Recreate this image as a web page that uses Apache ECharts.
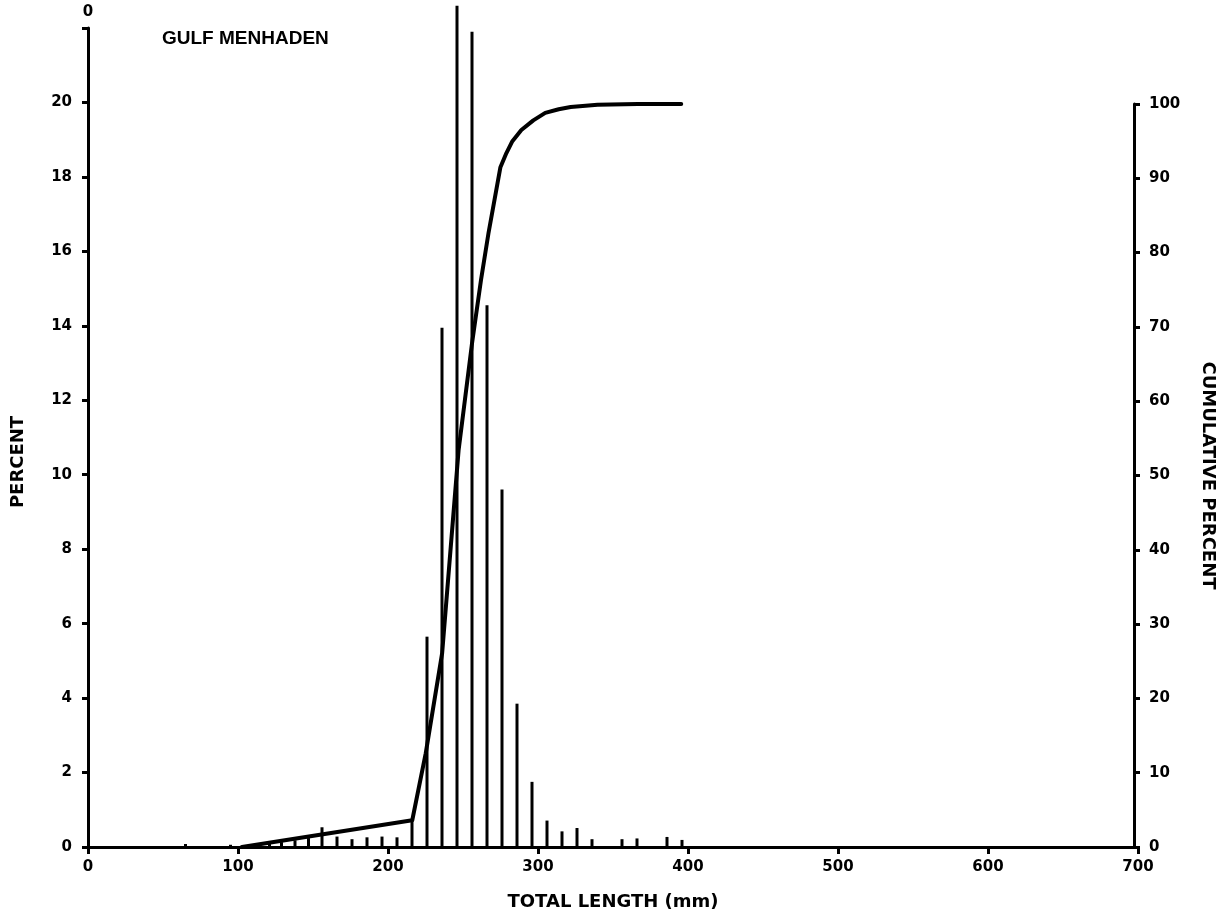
<!DOCTYPE html>
<html>
<head>
<meta charset="utf-8">
<script src="https://cdn.jsdelivr.net/npm/echarts@6/dist/echarts.min.js"></script>
<style>
  html, body { margin: 0; padding: 0; background: #fff; }
  #chart { width: 1225px; height: 917px; }
</style>
</head>
<body>
<div id="chart"></div>
<script>
// length class midpoints (mm) and percent of fish
let lengths = [65, 95, 121, 129, 138, 147, 156, 166, 176, 186, 196, 206, 216, 226, 236, 246, 256, 266, 276, 286, 296, 306, 316, 326, 336, 356, 366, 386, 396];
let percents = [0.08, 0.06, 0.1, 0.13, 0.18, 0.24, 0.53, 0.28, 0.21, 0.26, 0.28, 0.26, 0.72, 5.65, 13.95, 22.6, 21.9, 14.55, 9.6, 3.85, 1.75, 0.71, 0.42, 0.51, 0.21, 0.21, 0.23, 0.27, 0.19];

// cumulative curve
let cumLength = [103, 217, 226, 237, 248, 257, 263, 268, 276, 280, 284, 290, 298, 306, 315, 323, 341, 368, 397];
let cumPercent = [0, 3.6, 12.6, 26.1, 53.4, 67.8, 76.3, 82.6, 91.5, 93.4, 95, 96.5, 97.8, 98.8, 99.3, 99.6, 99.9, 100, 100];

let xTicks = [0, 100, 200, 300, 400, 500, 600, 700];

const font = '"DejaVu Sans", "Liberation Sans", sans-serif';
const ink = '#000';

let chart = echarts.init(document.getElementById('chart'));

let labelStyle = {
    color: ink,
    fontFamily: font,
    fontWeight: 'bold',
    fontSize: 15
};
let nameStyle = {
    color: ink,
    fontFamily: font,
    fontWeight: 'bold',
    fontSize: 18
};

let option = {
    backgroundColor: '#fff',
    animation: false,
    title: {
        text: 'GULF MENHADEN',
        left: 157,
        top: 24,
        textStyle: { color: ink, fontFamily: '"Liberation Sans", sans-serif', fontWeight: 'bold', fontSize: 19 }
    },
    graphic: [{
        type: 'text',
        rotation: Math.PI / 2,
        x: 18,
        y: 462,
        style: {
            text: 'PERCENT',
            fill: ink,
            font: 'bold 18px ' + font,
            textAlign: 'center',
            textVerticalAlign: 'middle'
        }
    }],
    grid: [
        { left: 88, right: 87, top: 28, bottom: 70 },
        { left: 88, right: 87, top: 104, bottom: 70 }
    ],
    xAxis: [{
        gridIndex: 0,
        type: 'value',
        min: 0,
        max: 700,
        interval: 100,
        name: 'TOTAL LENGTH (mm)',
        nameLocation: 'middle',
        nameGap: 46,
        nameTextStyle: nameStyle,
        axisLine: { lineStyle: { color: ink, width: 3 } },
        axisTick: { length: 7, lineStyle: { color: ink, width: 3 } },
        axisLabel: Object.assign({ margin: 13, formatter: v => xTicks.includes(v) ? String(v) : '' }, labelStyle),
        splitLine: { show: false }
    }, {
        gridIndex: 1,
        type: 'value',
        min: 0,
        max: 700,
        show: false
    }],
    yAxis: [{
        gridIndex: 0,
        type: 'value',
        min: 0,
        max: 22,
        interval: 2,
        name: '0',
        nameLocation: 'end',
        nameGap: 8,
        nameTextStyle: labelStyle,
        axisLine: { show: true, onZero: false, lineStyle: { color: ink, width: 3 } },
        axisTick: { show: true, length: 6, lineStyle: { color: ink, width: 3 } },
        axisLabel: Object.assign({ margin: 16, formatter: v => v > 20 ? '' : String(v) }, labelStyle),
        splitLine: { show: false }
    }, {
        gridIndex: 1,
        type: 'value',
        position: 'right',
        min: 0,
        max: 100,
        interval: 10,
        name: 'CUMULATIVE PERCENT',
        nameLocation: 'middle',
        nameRotate: -90,
        nameGap: 65,
        nameTextStyle: nameStyle,
        axisLine: { show: true, onZero: false, lineStyle: { color: ink, width: 3 } },
        axisTick: { show: true, inside: false, length: 6, lineStyle: { color: ink, width: 3 } },
        axisLabel: Object.assign({ margin: 15 }, labelStyle),
        splitLine: { show: false }
    }],
    series: [{
        name: 'Percent',
        type: 'bar',
        xAxisIndex: 0,
        yAxisIndex: 0,
        barWidth: 3,
        clip: false,
        itemStyle: { color: ink },
        data: lengths.map((l, i) => [l, percents[i]])
    }, {
        name: 'Cumulative percent',
        type: 'line',
        xAxisIndex: 1,
        yAxisIndex: 1,
        symbol: 'none',
        smooth: false,
        lineStyle: { color: ink, width: 4, join: 'round', cap: 'round' },
        data: cumLength.map((l, i) => [l, cumPercent[i]])
    }]
};

chart.setOption(option);
</script>
</body>
</html>
